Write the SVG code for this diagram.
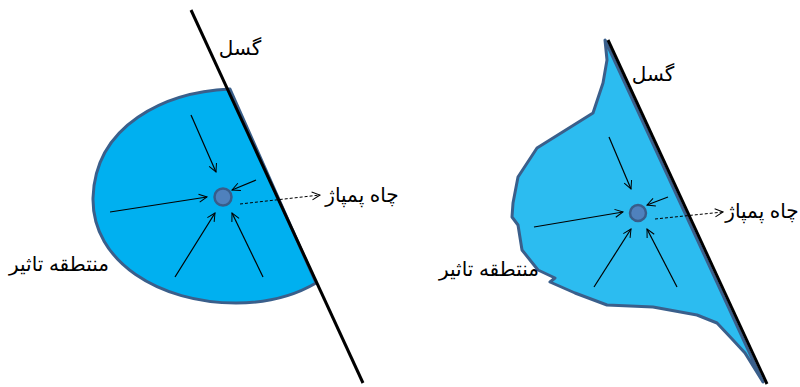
<svg xmlns="http://www.w3.org/2000/svg" width="800" height="387" viewBox="0 0 800 387">
<defs>
<marker id="ah" markerWidth="10" markerHeight="10" refX="9" refY="5" orient="auto" markerUnits="userSpaceOnUse">
<path d="M1,1 L9,5 L1,9" fill="none" stroke="#000" stroke-width="1"/>
</marker>
<style>
.zone{stroke:#3A5F8B;stroke-width:3;stroke-linejoin:round}
.fault{stroke:#000;stroke-width:3;fill:none}
.well{fill:#4F81BD;stroke:#385D8A;stroke-width:2.5}
.arr{stroke:#000;stroke-width:1.2;fill:none;marker-end:url(#ah)}
.dash{stroke:#000;stroke-width:1;stroke-dasharray:3,2;fill:none;marker-end:url(#ah)}
.lbl{font-family:"Liberation Sans","DejaVu Sans",sans-serif;font-size:20px;fill:#000;text-anchor:middle}
</style>
</defs>
<rect width="800" height="387" fill="#fff"/>
<g id="zone-left">
<path class="zone" fill="#00B0F0" d="M230,89 C165,92 95,125 93,198 C92,262 160,303 236,303 C272,303 299,293 316,283 Z"/>
</g>
<g id="zone-right">
<path class="zone" fill="#2CBCF0" d="M605,40 L607,60 L603,83 L593,113 L537,148 L518,177 L513,203 L512,217 L518,225 L522,250 L538,270 L555,278 L550,282 L575,293 L607,305 L653,307 L697,315 L717,323 L733,340 L745,353 L763,382 Z"/>
</g>
<g id="fault-left"><line class="fault" x1="191" y1="10" x2="363" y2="383"/></g>
<g id="fault-right"><line class="fault" x1="608" y1="40" x2="767" y2="384"/></g>
<g id="well-left"><circle class="well" cx="223" cy="197" r="8.5"/></g>
<g id="well-right"><circle class="well" cx="638" cy="213" r="8"/></g>
<g id="connectors">
<line class="arr" x1="191" y1="115" x2="216" y2="172"/>
<line class="arr" x1="256" y1="180" x2="232" y2="190"/>
<line class="arr" x1="110" y1="212" x2="207" y2="197"/>
<line class="arr" x1="175" y1="277" x2="215" y2="213"/>
<line class="arr" x1="263" y1="277" x2="232" y2="213"/>
<line class="dash" x1="240" y1="204" x2="320" y2="195"/>
<line class="arr" x1="609" y1="137" x2="631" y2="189"/>
<line class="arr" x1="668" y1="197" x2="647" y2="205"/>
<line class="arr" x1="534" y1="227" x2="623" y2="212"/>
<line class="arr" x1="594" y1="287" x2="631" y2="229"/>
<line class="arr" x1="677" y1="287" x2="647" y2="229"/>
<line class="dash" x1="655" y1="219" x2="723" y2="212"/>
</g>
<g id="labels">
<text class="lbl" x="240" y="55">گسل</text>
<text class="lbl" x="362" y="202">چاه پمپاژ</text>
<text class="lbl" x="59" y="271">منتطقه تاثیر</text>
<text class="lbl" x="653" y="81">گسل</text>
<text class="lbl" x="762" y="218">چاه پمپاژ</text>
<text class="lbl" x="489" y="276">منتطقه تاثیر</text>
</g>
</svg>
